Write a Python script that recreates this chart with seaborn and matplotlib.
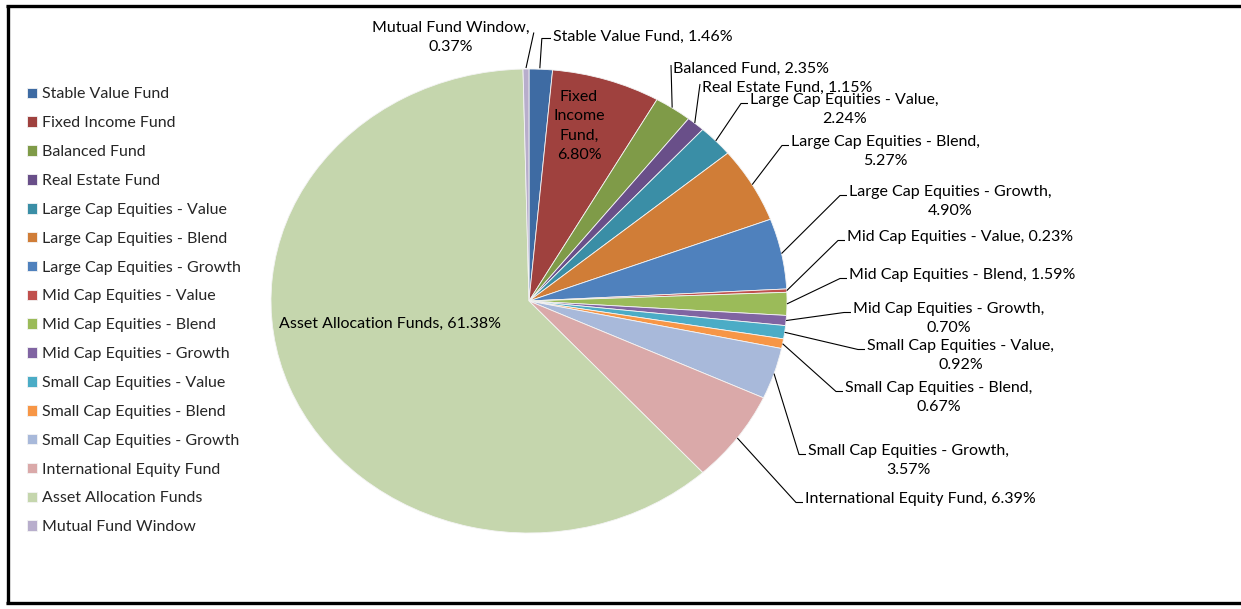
import numpy as np
import matplotlib
matplotlib.use("Agg")
import matplotlib.pyplot as plt
import seaborn as sns

# Plan allocation by fund, percent of total assets
categories = [
    "Stable Value Fund", "Fixed Income Fund", "Balanced Fund", "Real Estate Fund",
    "Large Cap Equities - Value", "Large Cap Equities - Blend", "Large Cap Equities - Growth",
    "Mid Cap Equities - Value", "Mid Cap Equities - Blend", "Mid Cap Equities - Growth",
    "Small Cap Equities - Value", "Small Cap Equities - Blend", "Small Cap Equities - Growth",
    "International Equity Fund", "Asset Allocation Funds", "Mutual Fund Window",
]
shares = [1.46, 6.80, 2.35, 1.15, 2.24, 5.27, 4.90, 0.23, 1.59, 0.70,
          0.92, 0.67, 3.57, 6.39, 61.38, 0.37]

slice_colors = [
    "#3E6BA3", "#9F413E", "#7F9B48", "#694F89", "#3A8EA6", "#D07D37",
    "#4F81BD", "#C0504D", "#9BBB59", "#8064A2", "#4BACC6", "#F79646",
    "#A8B9DA", "#DAA9A9", "#C5D6AD", "#B8AECC",
]

# Label placement in canvas pixels (x, y of first text line), with alignment and wrap style
label_layout = {
    "Stable Value Fund":           dict(x=553, y=37, ha="left", wrap="one", lead="vertical"),
    "Fixed Income Fund":           dict(x=579, y=97, ha="center", wrap="stack", lead=None),
    "Balanced Fund":               dict(x=673, y=69, ha="left", wrap="one", lead="direct"),
    "Real Estate Fund":            dict(x=702, y=88, ha="left", wrap="one", lead="direct"),
    "Large Cap Equities - Value":  dict(x=750, y=100, ha="left", wrap="two", lead="elbow"),
    "Large Cap Equities - Blend":  dict(x=791, y=142, ha="left", wrap="two", lead="elbow"),
    "Large Cap Equities - Growth": dict(x=849, y=192, ha="left", wrap="two", lead="elbow"),
    "Mid Cap Equities - Value":    dict(x=847, y=237, ha="left", wrap="one", lead="elbow"),
    "Mid Cap Equities - Blend":    dict(x=849, y=275, ha="left", wrap="one", lead="elbow"),
    "Mid Cap Equities - Growth":   dict(x=853, y=309, ha="left", wrap="two", lead="elbow"),
    "Small Cap Equities - Value":  dict(x=867, y=346, ha="left", wrap="two", lead="elbow"),
    "Small Cap Equities - Blend":  dict(x=845, y=388, ha="left", wrap="two", lead="elbow"),
    "Small Cap Equities - Growth": dict(x=808, y=451, ha="left", wrap="two", lead="elbow"),
    "International Equity Fund":   dict(x=805, y=499, ha="left", wrap="one", lead="elbow"),
    "Asset Allocation Funds":      dict(x=390, y=324, ha="center", wrap="one", lead=None),
    "Mutual Fund Window":          dict(x=451, y=28, ha="center", wrap="two", lead="right"),
}

W, H, DPI = 1241, 609, 100
sns.set_theme(style="white")
plt.rcParams["font.family"] = ["Lato", "DejaVu Sans"]
FS = 11.5
LINE_PX = 19.4

fig = plt.figure(figsize=(W / DPI, H / DPI), dpi=DPI)
fig.patch.set_facecolor("white")

# Pie sits in its own axes; the chart is stretched horizontally, so aspect is free
cx, cy, rx, ry = 529, 301, 258, 232
ax = fig.add_axes([(cx - rx) / W, (H - cy - ry) / H, 2 * rx / W, 2 * ry / H])
wedges, _ = ax.pie(shares, colors=slice_colors, startangle=90, counterclock=False,
                   wedgeprops=dict(linewidth=0.6, edgecolor="#f4f4f4"))
ax.set_aspect("auto")
ax.set_xlim(-1, 1)
ax.set_ylim(-1, 1)
ax.axis("off")

# Overlay in pixel coordinates for labels, leader lines and frame
ov = fig.add_axes([0, 0, 1, 1], zorder=5)
ov.set_xlim(0, W)
ov.set_ylim(H, 0)
ov.axis("off")
ov.patch.set_alpha(0)


def to_px(pt):
    disp = ax.transData.transform(pt)
    return ov.transData.inverted().transform(disp)


fig.canvas.draw()
renderer = fig.canvas.get_renderer()

for name, val, wedge in zip(categories, shares, wedges):
    lay = label_layout[name]
    pct = f"{val:.2f}%"
    if lay["wrap"] == "one":
        text = f"{name}, {pct}"
    elif lay["wrap"] == "two":
        text = f"{name},\n{pct}"
    else:
        words = name.split(" ")
        text = "\n".join(words[:-1] + [words[-1] + ","]) + "\n" + pct
    nlines = text.count("\n") + 1
    ycen = lay["y"] + (nlines - 1) * LINE_PX / 2
    t = ov.text(lay["x"], ycen, text, ha=lay["ha"], va="center", ma="center",
                fontsize=FS, color="black", linespacing=1.5)

    if lay["lead"] is None:
        continue
    mid = np.deg2rad((wedge.theta1 + wedge.theta2) / 2)
    sx, sy = to_px((np.cos(mid), np.sin(mid)))
    bb = t.get_window_extent(renderer)
    (l, _), (r, _) = ov.transData.inverted().transform([[bb.x0, bb.y0], [bb.x1, bb.y1]])
    y1 = lay["y"] + 3.5
    if lay["lead"] == "elbow":
        xs, ys = [sx, l - 9, l - 2], [sy, y1, y1]
    elif lay["lead"] == "vertical":
        xs, ys = [sx - 1, sx + 1, l - 2], [sy - 1, y1 - 2, y1 - 2]
    elif lay["lead"] == "direct":
        xs, ys = [sx - 1, l - 2], [sy - 1, lay["y"] - 4]
    else:
        xs, ys = [sx, r + 4], [sy - 1, y1 + 1]
    ov.plot(xs, ys, color="black", lw=0.8, solid_capstyle="butt")

# Legend down the left side
fig.legend(wedges, categories, loc="upper left",
           bbox_to_anchor=(27 / W, 1 - 87.5 / H), frameon=False, fontsize=FS,
           handlelength=0.64, handleheight=0.64, handletextpad=0.32,
           labelspacing=0.93, borderpad=0, borderaxespad=0)

# Chart frame: top, left and bottom rules
ov.plot([6, W], [5.5, 5.5], color="black", lw=2.4, solid_capstyle="butt")
ov.plot([7.5, 7.5], [4.5, 604], color="black", lw=2.4, solid_capstyle="butt")
ov.plot([6, W], [603, 603], color="black", lw=2.4, solid_capstyle="butt")

fig.savefig("out.png", dpi=DPI, facecolor="white")
